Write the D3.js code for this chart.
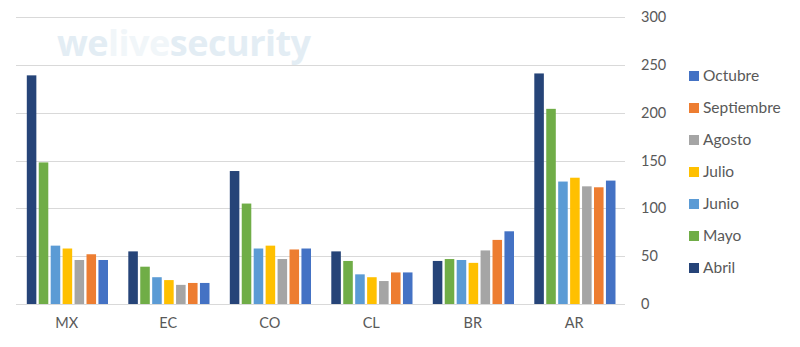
<!DOCTYPE html>
<html><head><meta charset="utf-8">
<script src="https://cdn.jsdelivr.net/npm/d3@7"></script>
<style>body{margin:0;background:#fff}svg{display:block}</style>
</head><body>
<svg id="chart" width="800" height="347"></svg>
<script>
const categories = ["MX","EC","CO","CL","BR","AR"];
const seriesNames = ["Abril","Mayo","Junio","Julio","Agosto","Septiembre","Octubre"];
const seriesColors = ["#264478","#70AD47","#5B9BD5","#FFC000","#A5A5A5","#ED7D31","#4472C4"];
const abril      = [239, 55, 139, 55, 45, 241];
const mayo       = [148, 39, 105, 45, 47, 204];
const junio      = [61, 28, 58, 31, 46, 128];
const julio      = [58, 25, 61, 28, 43, 132];
const agosto     = [46, 20, 47, 24, 56, 123];
const septiembre = [52, 22, 57, 33, 67, 122];
const octubre    = [46, 22, 58, 33, 76, 129];
const yTicks = [0,50,100,150,200,250,300];
const legendOrder = ["Octubre","Septiembre","Agosto","Julio","Junio","Mayo","Abril"];

const seriesValues = [abril, mayo, junio, julio, agosto, septiembre, octubre];
const font = "Lato, 'Open Sans', sans-serif";
const svg = d3.select("#chart");

const x = d3.scaleBand().domain(categories).range([16, 625]).padding(0);
const y = d3.scaleLinear().domain([0, 300]).range([304, 17]);
const inner = d3.scaleBand().domain(seriesNames)
  .range([10.8, x.bandwidth() - 9.5]).paddingInner(0.2).paddingOuter(0);

// watermark
const wm = svg.append("text").attr("x", 57).attr("y", 56)
  .attr("font-family", "'Open Sans', sans-serif").attr("font-weight", 700)
  .attr("font-size", 36).attr("letter-spacing", -0.5);
wm.append("tspan").attr("fill", "#e3edf4").text("we");
wm.append("tspan").attr("fill", "#f1f6f9").text("live");
wm.append("tspan").attr("fill", "#e3edf4").text("security");

// gridlines
svg.append("g").selectAll("line").data(yTicks).join("line")
  .attr("x1", 16).attr("x2", 625)
  .attr("y1", d => Math.round(y(d)) + 0.5).attr("y2", d => Math.round(y(d)) + 0.5)
  .attr("stroke", "#d9d9d9").attr("stroke-width", 1);

// right axis labels
const yAxis = d3.axisRight(y).tickValues(yTicks).tickSize(0).tickPadding(0);
const ga = svg.append("g").attr("transform", "translate(641,0)").call(yAxis);
ga.select(".domain").remove();
ga.selectAll("text").attr("font-family", font).attr("font-size", 14.5).attr("fill", "#595959");

// bars
const g = svg.append("g");
categories.forEach((c, ci) => {
  seriesNames.forEach((s, si) => {
    const v = seriesValues[si][ci];
    g.append("rect")
      .attr("x", x(c) + inner(s))
      .attr("width", inner.bandwidth())
      .attr("y", y(v))
      .attr("height", y(0) - y(v))
      .attr("fill", seriesColors[si]);
  });
});

// x axis labels
const xAxis = d3.axisBottom(x).tickSize(0).tickPadding(0);
const gx = svg.append("g").attr("transform", "translate(0,318)").call(xAxis);
gx.select(".domain").remove();
gx.selectAll("text").attr("font-family", font).attr("font-size", 14.5).attr("fill", "#595959");

// legend
const lg = svg.append("g");
legendOrder.forEach((name, i) => {
  const si = seriesNames.indexOf(name);
  const cy = 76 + i * 32;
  lg.append("rect").attr("x", 689).attr("y", cy - 5).attr("width", 10).attr("height", 10)
    .attr("fill", seriesColors[si]);
  lg.append("text").attr("x", 703).attr("y", cy).attr("dy", "0.35em")
    .attr("font-family", font).attr("font-size", 15.5).attr("fill", "#595959").text(name);
});
</script>
</body></html>
